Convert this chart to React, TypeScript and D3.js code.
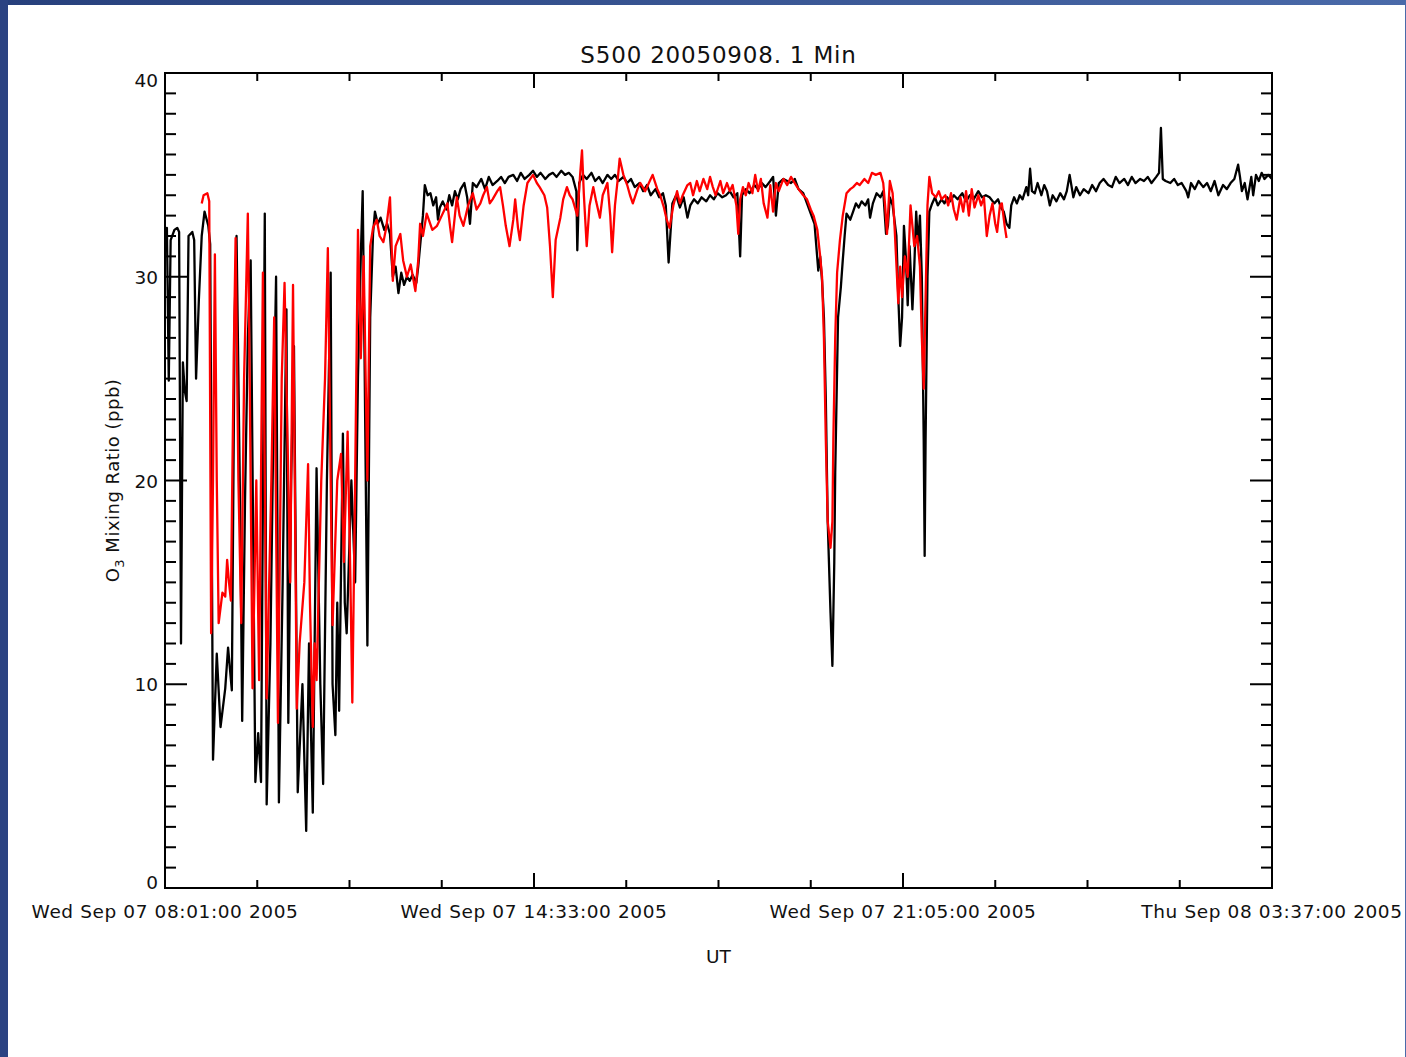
import React, { useEffect, useRef } from 'react'
import * as d3 from 'd3'

const title = 'S500 20050908. 1 Min'
const xTitle = 'UT'
const startTime = new Date(2005, 8, 7, 8, 1, 0)
const spanMinutes = 1176
const xTickStep = 98
const xLabelEvery = 4
const xTickLabels = [
  'Wed Sep 07 08:01:00 2005',
  'Wed Sep 07 14:33:00 2005',
  'Wed Sep 07 21:05:00 2005',
  'Thu Sep 08 03:37:00 2005'
]
const yTickValues = [0, 10, 20, 30, 40]

// [minutes after 08:01 UT, O3 ppb]
const blackSeries: [number, number][] = [
  [0, 32.3], [2, 32.4], [4, 24.9], [6, 31.8], [10, 32.3], [13, 32.4], [15, 32.2], [17, 12.0],
  [19, 25.8], [21, 24.4], [23, 23.9], [25, 32.0], [29, 32.2], [31, 31.8], [33, 25.0], [36, 28.9],
  [39, 32.0], [42, 33.2], [46, 32.5], [48, 31.6], [51, 6.3], [55, 11.5], [59, 7.9], [64, 9.8],
  [67, 11.8], [71, 9.7], [74, 28], [76, 32.0], [80, 18], [82, 8.2], [85, 19], [88, 27],
  [91, 30.8], [96, 5.2], [99, 7.6], [102, 5.2], [106, 33.1], [108, 4.1], [112, 12], [115, 22],
  [118, 30.0], [121, 4.2], [125, 15], [129, 28.4], [131, 8.1], [134, 20], [137, 26.6], [141, 4.7],
  [146, 10], [150, 2.8], [153, 12], [157, 3.7], [161, 20.6], [165, 10], [168, 5.1], [172, 20],
  [176, 30.2], [178, 10], [181, 7.5], [183, 14], [185, 8.7], [189, 22.3], [191, 14], [193, 12.5],
  [198, 20], [202, 15], [205, 25.1], [208, 31], [210, 34.2], [212, 26], [215, 11.9], [218, 28],
  [221, 32.1], [223, 33.2], [226, 32.6], [229, 32.9], [233, 32.3], [236, 32.6], [239, 32.1], [242, 30.0],
  [245, 30.5], [248, 29.2], [251, 30.2], [254, 29.6], [257, 30.0], [260, 29.8], [263, 30.1], [267, 29.7],
  [269, 30.5], [271, 31.5], [274, 33.0], [276, 34.5], [279, 34.0], [282, 34.1], [285, 33.5], [288, 33.9],
  [290, 32.8], [292, 33.4], [295, 33.7], [299, 33.3], [302, 34.0], [305, 33.5], [308, 34.2], [311, 33.8],
  [314, 34.3], [318, 34.6], [321, 33.9], [324, 32.6], [327, 34.6], [331, 34.4], [336, 34.8], [340, 34.3],
  [344, 34.9], [348, 34.5], [353, 34.7], [357, 34.9], [361, 34.6], [365, 34.9], [370, 35.0], [374, 34.7],
  [378, 35.1], [382, 34.8], [387, 35.0], [391, 35.2], [395, 34.9], [399, 35.1], [404, 34.8], [408, 35.0],
  [412, 35.1], [416, 34.9], [421, 35.2], [425, 35.0], [429, 35.1], [433, 34.9], [437, 34.2], [438, 31.3],
  [440, 34.6], [444, 35.0], [448, 34.8], [453, 35.1], [457, 34.7], [461, 34.9], [465, 34.6], [470, 35.0],
  [474, 34.8], [478, 35.0], [482, 34.7], [487, 34.9], [491, 34.6], [495, 34.8], [499, 34.4], [504, 34.6],
  [508, 34.2], [512, 34.5], [516, 34.0], [521, 34.3], [525, 33.9], [529, 34.1], [532, 33.5], [535, 30.7],
  [539, 33.6], [543, 34.0], [547, 33.4], [551, 33.9], [555, 32.9], [558, 33.5], [562, 33.8], [566, 33.6],
  [570, 33.9], [575, 33.7], [579, 34.0], [583, 33.8], [587, 34.1], [592, 33.9], [596, 34.0], [600, 34.2],
  [604, 33.9], [608, 34.1], [611, 31.0], [613, 34.0], [617, 34.3], [621, 34.1], [626, 34.5], [630, 34.3],
  [634, 34.6], [638, 34.4], [643, 34.7], [646, 34.9], [649, 33.0], [652, 34.6], [657, 34.8], [661, 34.7],
  [665, 34.6], [669, 34.8], [673, 34.3], [678, 34.1], [682, 33.6], [686, 33.1], [690, 32.6], [694, 30.3],
  [696, 31.0], [698, 29.8], [700, 28.0], [702, 24], [704, 18], [707, 13.5], [709, 10.9], [711, 16],
  [712, 20.4], [715, 28.0], [718, 29.5], [720, 30.8], [722, 32.0], [724, 33.1], [728, 32.8], [731, 33.2],
  [734, 33.6], [737, 33.4], [740, 33.7], [744, 33.5], [747, 33.8], [749, 32.9], [752, 33.6], [756, 34.1],
  [760, 33.9], [763, 34.2], [766, 32.1], [768, 32.5], [770, 33.9], [773, 33.5], [777, 32.0], [779, 29],
  [781, 26.6], [783, 28], [785, 32.5], [787, 31.0], [789, 28.6], [791, 31.5], [794, 28.4], [796, 30.5],
  [798, 33.2], [800, 31.5], [802, 33.0], [804, 30], [806, 22], [807, 16.3], [808, 22], [810, 30],
  [812, 33.2], [815, 33.6], [818, 33.9], [821, 33.5], [825, 33.8], [828, 33.6], [831, 33.9], [834, 33.7],
  [838, 34.0], [842, 33.8], [847, 34.1], [851, 33.7], [855, 34.0], [859, 33.8], [864, 34.2], [868, 33.9],
  [872, 34.0], [876, 33.9], [881, 33.6], [885, 33.8], [888, 33.4], [891, 33.2], [894, 32.6], [897, 32.4],
  [899, 33.5], [902, 33.9], [905, 33.6], [908, 34.0], [911, 33.8], [915, 34.4], [917, 34.0], [919, 35.3],
  [921, 34.2], [924, 34.1], [927, 34.6], [931, 34.0], [934, 34.5], [937, 34.2], [940, 33.5], [943, 34.0],
  [947, 33.7], [951, 34.1], [955, 33.8], [958, 34.2], [961, 35.0], [965, 33.9], [968, 34.4], [972, 34.0],
  [976, 34.3], [981, 34.1], [985, 34.5], [989, 34.2], [993, 34.6], [997, 34.8], [1002, 34.5], [1006, 34.4],
  [1010, 34.9], [1014, 34.6], [1019, 34.8], [1023, 34.5], [1027, 34.9], [1031, 34.6], [1036, 34.8], [1040, 34.7],
  [1044, 34.9], [1048, 34.6], [1053, 34.9], [1056, 35.1], [1058, 37.3], [1060, 34.8], [1063, 34.7], [1068, 34.6],
  [1072, 34.8], [1076, 34.5], [1080, 34.6], [1085, 34.2], [1087, 33.9], [1090, 34.6], [1094, 34.3], [1098, 34.7],
  [1103, 34.4], [1107, 34.6], [1111, 34.2], [1115, 34.7], [1119, 34.0], [1124, 34.5], [1128, 34.3], [1132, 34.6],
  [1136, 34.8], [1140, 35.5], [1142, 34.9], [1144, 34.2], [1147, 34.6], [1150, 33.8], [1154, 34.9], [1156, 34.0],
  [1159, 35.0], [1162, 34.7], [1165, 35.1], [1168, 34.8], [1172, 35.0], [1176, 34.8]
]

const redSeries: [number, number][] = [
  [39, 33.6], [41, 34.0], [45, 34.1], [47, 33.7], [49, 12.5], [51, 20], [53, 31.1], [55, 20],
  [57, 13.0], [61, 14.5], [64, 14.3], [66, 16.1], [68, 15.0], [70, 14.1], [73, 26], [75, 31.9],
  [78, 20], [81, 13.0], [84, 25], [88, 33.1], [90, 25], [93, 9.8], [97, 20], [100, 10.2],
  [104, 30.2], [106, 20], [108, 9.3], [113, 20], [116, 28], [120, 8.1], [124, 25], [127, 29.7],
  [131, 20], [133, 15], [136, 29.6], [140, 8.8], [143, 12], [148, 15.0], [152, 20.8], [154, 14],
  [157, 7.9], [159, 12], [161, 10.2], [166, 20], [170, 25], [173, 31.4], [176, 20], [178, 12.9],
  [183, 20], [187, 21.3], [190, 16], [194, 22.4], [197, 15], [199, 9.1], [202, 20], [205, 32.3],
  [208, 26], [211, 31], [215, 20], [218, 31.5], [221, 32.4], [225, 32.8], [228, 32.0], [232, 31.7],
  [235, 32.4], [239, 33.9], [242, 29.8], [245, 31.5], [250, 32.1], [253, 30.8], [257, 30.0], [261, 30.6],
  [266, 29.3], [269, 30.8], [271, 32.6], [274, 32.0], [278, 33.1], [284, 32.3], [289, 32.5], [294, 33.0],
  [300, 33.6], [303, 32.4], [305, 31.7], [310, 33.9], [313, 33.0], [317, 32.5], [322, 33.5], [327, 34.1],
  [331, 33.3], [335, 33.6], [338, 34.0], [342, 34.4], [345, 33.6], [348, 33.8], [353, 34.2], [356, 34.4],
  [359, 33.5], [362, 32.5], [366, 31.5], [370, 32.8], [372, 33.8], [375, 32.4], [377, 31.8], [381, 33.5],
  [385, 34.6], [388, 34.8], [391, 35.0], [395, 34.6], [398, 34.4], [403, 34.0], [406, 33.4], [409, 31.5],
  [412, 29.0], [415, 31.8], [420, 32.9], [423, 33.8], [427, 34.4], [430, 34.0], [433, 33.8], [438, 33.0],
  [441, 35.0], [443, 36.2], [445, 34.0], [448, 31.5], [451, 33.5], [455, 34.4], [458, 33.7], [462, 32.9],
  [465, 34.0], [470, 34.6], [473, 33.0], [475, 31.2], [478, 33.5], [481, 34.8], [483, 35.8], [487, 35.0],
  [491, 34.5], [494, 34.0], [497, 33.6], [502, 34.3], [505, 34.6], [510, 34.2], [514, 34.6], [518, 35.0],
  [523, 34.3], [526, 34.0], [530, 33.4], [533, 32.8], [536, 32.4], [540, 33.5], [544, 34.2], [547, 33.6],
  [550, 34.0], [555, 34.5], [558, 34.6], [561, 34.0], [565, 34.7], [568, 34.2], [572, 34.8], [576, 34.3],
  [579, 34.9], [582, 34.4], [585, 34.0], [590, 34.7], [593, 34.1], [597, 34.6], [600, 34.2], [603, 34.5],
  [607, 33.5], [609, 32.1], [611, 33.8], [614, 34.4], [617, 34.0], [620, 34.6], [624, 34.1], [627, 35.0],
  [630, 34.2], [633, 34.8], [636, 33.6], [640, 32.9], [643, 34.5], [646, 33.2], [649, 34.6], [652, 34.2],
  [657, 34.8], [661, 34.5], [665, 34.9], [669, 34.6], [673, 34.3], [678, 34.0], [682, 33.8], [686, 33.3],
  [689, 33.0], [693, 32.3], [696, 31.0], [698, 30.0], [700, 27], [702, 22], [704, 18], [707, 16.7],
  [709, 18], [710, 22], [712, 27], [714, 30.2], [717, 31.8], [720, 33.0], [724, 34.1], [728, 34.3],
  [731, 34.4], [735, 34.6], [738, 34.5], [743, 34.8], [747, 34.6], [751, 35.1], [755, 35.0], [760, 35.1],
  [763, 34.6], [765, 33.5], [767, 32.1], [770, 34.7], [773, 34.1], [775, 32.5], [779, 28.7], [781, 30.5],
  [783, 29.0], [786, 31.0], [789, 30.0], [792, 33.5], [796, 31.5], [799, 32.0], [802, 30.5], [804, 27],
  [806, 24.5], [808, 29], [810, 33.5], [812, 34.9], [815, 34.1], [819, 33.9], [822, 34.2], [825, 33.8],
  [829, 34.0], [832, 33.5], [835, 34.1], [838, 33.3], [841, 32.8], [845, 33.9], [848, 33.2], [851, 34.2],
  [854, 33.0], [857, 34.3], [860, 33.4], [864, 34.0], [867, 33.5], [870, 33.9], [873, 32.0], [876, 33.0],
  [879, 33.6], [882, 32.6], [884, 32.2], [887, 33.5], [889, 33.6], [892, 32.5], [894, 31.9]
]

const font = "'DejaVu Sans', sans-serif"

const App = () => {
  const svgRef = useRef<SVGSVGElement | null>(null)

  useEffect(() => {
    const W = 1406
    const H = 1057
    const left = 165
    const right = 1272
    const top = 73
    const bottom = 888

    const svg = d3.select(svgRef.current)
    svg.selectAll('*').remove()

    // slide background
    const defs = svg.append('defs')
    const grad = defs
      .append('linearGradient')
      .attr('id', 'frame')
      .attr('x1', '0%')
      .attr('x2', '100%')
      .attr('y1', '0%')
      .attr('y2', '0%')
    grad.append('stop').attr('offset', '0%').attr('stop-color', '#27407c')
    grad.append('stop').attr('offset', '100%').attr('stop-color', '#4a6aa9')
    svg.append('rect').attr('width', W).attr('height', H).attr('fill', 'url(#frame)')
    svg.append('rect').attr('x', 0).attr('y', 0).attr('width', 8).attr('height', H).attr('fill', '#2b4382')
    svg.append('rect').attr('x', 8).attr('y', 5).attr('width', 1397).attr('height', H - 5).attr('fill', '#fff')

    const endTime = d3.timeMinute.offset(startTime, spanMinutes)
    const xScale = d3.scaleTime().domain([startTime, endTime]).range([left, right])
    const yScale = d3.scaleLinear().domain([0, 40]).range([bottom, top])

    const line = d3
      .line<[number, number]>()
      .x(d => xScale(d3.timeMinute.offset(startTime, d[0])))
      .y(d => yScale(d[1]))

    // Data lines
    svg
      .append('path')
      .datum(blackSeries)
      .attr('d', line)
      .attr('fill', 'none')
      .attr('stroke', '#000')
      .attr('stroke-width', 2.3)
      .attr('stroke-linejoin', 'round')
    svg
      .append('path')
      .datum(redSeries)
      .attr('d', line)
      .attr('fill', 'none')
      .attr('stroke', '#f00')
      .attr('stroke-width', 2.3)
      .attr('stroke-linejoin', 'round')

    // Frame
    svg
      .append('rect')
      .attr('x', left)
      .attr('y', top)
      .attr('width', right - left)
      .attr('height', bottom - top)
      .attr('fill', 'none')
      .attr('stroke', '#000')
      .attr('stroke-width', 2)

    // Y ticks (left and right, minor every 1 ppb)
    const yTicks = d3.range(0, 41)
    const ax = svg.append('g').attr('stroke', '#000').attr('stroke-width', 2)
    yTicks.forEach(v => {
      const len = v % 10 === 0 ? 22 : 11
      const yy = yScale(v)
      ax.append('line').attr('x1', left).attr('x2', left + len).attr('y1', yy).attr('y2', yy)
      ax.append('line').attr('x1', right).attr('x2', right - len).attr('y1', yy).attr('y2', yy)
    })

    // X ticks
    const xTicks = d3.range(0, spanMinutes / xTickStep + 1)
    xTicks.forEach(i => {
      const xx = xScale(d3.timeMinute.offset(startTime, i * xTickStep))
      const len = i % xLabelEvery === 0 ? 15 : 8
      ax.append('line').attr('x1', xx).attr('x2', xx).attr('y1', bottom).attr('y2', bottom - len)
      ax.append('line').attr('x1', xx).attr('x2', xx).attr('y1', top).attr('y2', top + len)
    })

    // Y tick labels
    svg
      .selectAll('text.ylab')
      .data(yTickValues)
      .enter()
      .append('text')
      .attr('class', 'ylab')
      .attr('x', left - 7)
      .attr('y', d => Math.min(Math.max(yScale(d) + 7, top + 14), bottom + 1))
      .attr('text-anchor', 'end')
      .attr('font-family', font)
      .attr('font-size', '18.5px')
      .attr('fill', '#111')
      .text(d => `${d}`)

    // X tick labels
    svg
      .selectAll('text.xlab')
      .data(xTickLabels)
      .enter()
      .append('text')
      .attr('class', 'xlab')
      .attr('x', (d, i) => xScale(d3.timeMinute.offset(startTime, i * xTickStep * xLabelEvery)))
      .attr('y', 918)
      .attr('text-anchor', 'middle')
      .attr('font-family', font)
      .attr('font-size', '18.5px')
      .attr('letter-spacing', '0.6px')
      .attr('fill', '#111')
      .text(d => d)

    // Titles
    svg
      .append('text')
      .attr('x', (left + right) / 2)
      .attr('y', 63)
      .attr('text-anchor', 'middle')
      .attr('font-family', font)
      .attr('font-size', '23px')
      .attr('letter-spacing', '0.8px')
      .attr('fill', '#111')
      .text(title)

    svg
      .append('text')
      .attr('x', (left + right) / 2)
      .attr('y', 963)
      .attr('text-anchor', 'middle')
      .attr('font-family', font)
      .attr('font-size', '18.5px')
      .attr('fill', '#111')
      .text(xTitle)

    const yl = svg
      .append('text')
      .attr('transform', `translate(119, ${(top + bottom) / 2}) rotate(-90)`)
      .attr('text-anchor', 'middle')
      .attr('font-family', font)
      .attr('font-size', '18px')
      .attr('letter-spacing', '0.5px')
      .attr('fill', '#111')
    yl.append('tspan').text('O')
    yl.append('tspan').attr('font-size', '13px').attr('dy', 5).text('3')
    yl.append('tspan').attr('dy', -5).text(' Mixing Ratio (ppb)')
  }, [])

  return (
    <div style={{ position: 'absolute', left: 0, top: 0 }}>
      <svg ref={svgRef} width={1406} height={1057} style={{ display: 'block' }} />
    </div>
  )
}

export default App
